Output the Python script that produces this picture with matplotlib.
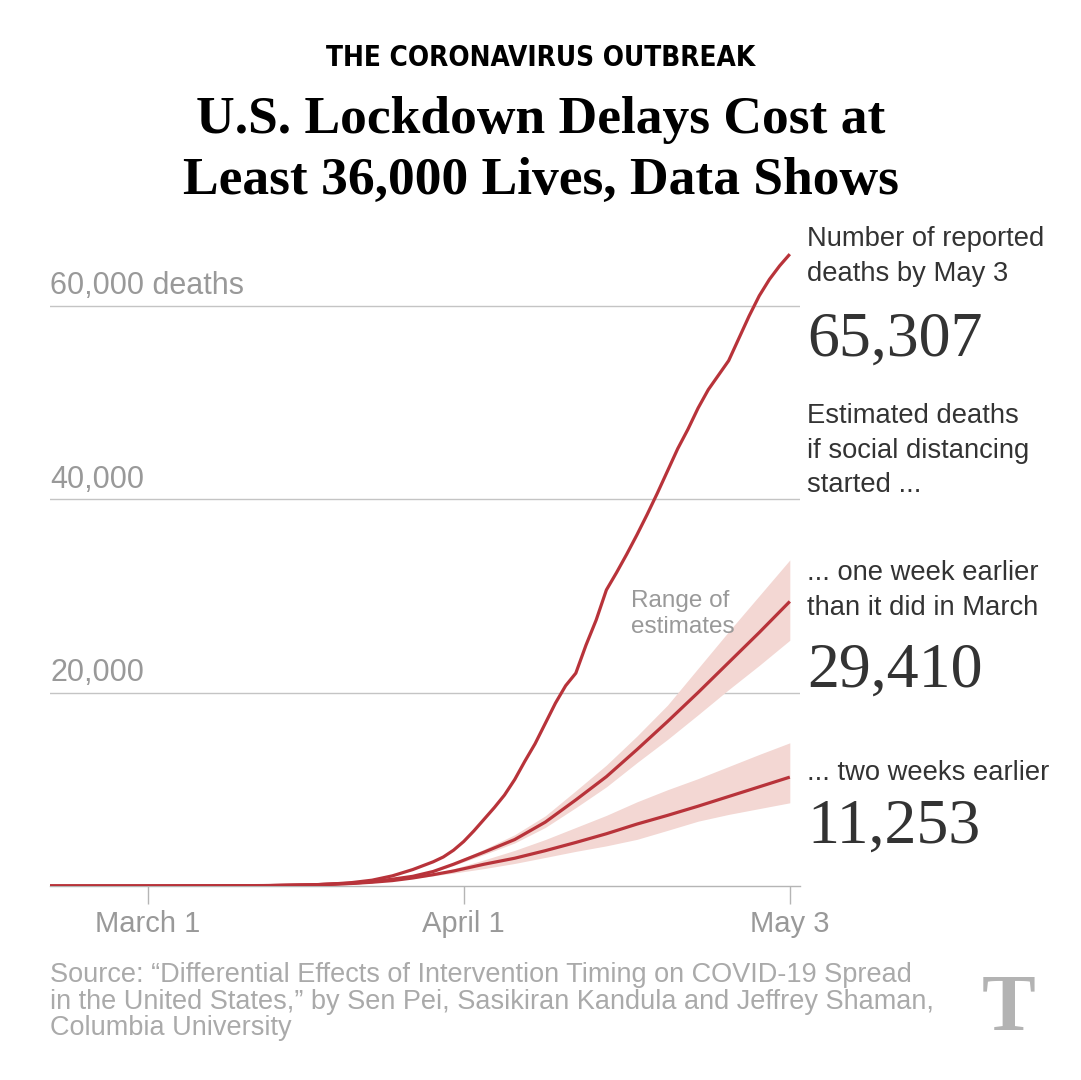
import pandas as pd
import numpy as np
import matplotlib
matplotlib.use("Agg")
import matplotlib.pyplot as plt
import matplotlib.dates as mdates
from matplotlib.transforms import blended_transform_factory

plt.rcParams["font.family"] = ["Liberation Sans", "DejaVu Sans"]

# reported cumulative deaths
reported_dates = ["2020-02-20", "2020-03-01", "2020-03-08", "2020-03-13", "2020-03-17",
                  "2020-03-19", "2020-03-21", "2020-03-23", "2020-03-25", "2020-03-27",
                  "2020-03-29", "2020-03-30", "2020-03-31", "2020-04-01", "2020-04-02",
                  "2020-04-03", "2020-04-04", "2020-04-05", "2020-04-06", "2020-04-07",
                  "2020-04-08", "2020-04-09", "2020-04-10", "2020-04-11", "2020-04-12",
                  "2020-04-13", "2020-04-14", "2020-04-15", "2020-04-16", "2020-04-17",
                  "2020-04-18", "2020-04-19", "2020-04-20", "2020-04-21", "2020-04-22",
                  "2020-04-23", "2020-04-24", "2020-04-25", "2020-04-26", "2020-04-27",
                  "2020-04-28", "2020-04-29", "2020-04-30", "2020-05-01", "2020-05-02",
                  "2020-05-03"]
reported = [0, 2, 20, 50, 110,
            200, 350, 600, 1050, 1700,
            2500, 3000, 3700, 4600, 5700,
            6900, 8100, 9400, 11000, 12900,
            14700, 16800, 18900, 20700, 22000,
            24900, 27500, 30600, 32400, 34300,
            36300, 38400, 40600, 42900, 45200,
            47200, 49400, 51300, 52800, 54300,
            56600, 58900, 61000, 62700, 64100,
            65307]

# model estimates if distancing had started earlier
est_dates = ["2020-02-20", "2020-03-01", "2020-03-08", "2020-03-13", "2020-03-17",
             "2020-03-21", "2020-03-23", "2020-03-25", "2020-03-27", "2020-03-29",
             "2020-03-31", "2020-04-03", "2020-04-06", "2020-04-09", "2020-04-12",
             "2020-04-15", "2020-04-18", "2020-04-21", "2020-04-24", "2020-04-27",
             "2020-04-30", "2020-05-03"]
one_week = [0, 2, 15, 45, 120, 280, 450, 700, 1000, 1500, 2250, 3500, 4800, 6600,
            8900, 11300, 14100, 17000, 20000, 23100, 26200, 29410]
one_week_low = [0, 2, 15, 45, 120, 275, 440, 690, 970, 1430, 2120, 3250, 4450, 6050,
                8100, 10250, 12750, 15150, 17700, 20300, 22800, 25400]
one_week_high = [0, 2, 15, 45, 120, 285, 460, 720, 1040, 1580, 2420, 3800, 5300, 7250,
                 9850, 12500, 15500, 18700, 22500, 26300, 30000, 33700]
two_weeks = [0, 2, 15, 45, 115, 260, 390, 560, 830, 1170, 1550, 2250, 2870, 3650,
             4500, 5400, 6400, 7300, 8250, 9250, 10250, 11253]
two_weeks_low = [0, 2, 15, 45, 115, 255, 380, 540, 780, 1050, 1330, 1800, 2330, 2950,
                 3580, 4150, 4820, 5750, 6700, 7400, 8000, 8600]
two_weeks_high = [0, 2, 15, 45, 115, 265, 400, 580, 880, 1280, 1780, 2700, 3680, 4800,
                  6050, 7300, 8700, 9950, 11100, 12350, 13600, 14800]

y_ticks = [20000, 40000, 60000]
y_tick_labels = ["20,000", "40,000", "60,000 deaths"]
x_ticks = ["2020-03-01", "2020-04-01", "2020-05-03"]
x_tick_labels = ["March 1", "April 1", "May 3"]

RED = "#b8333a"
PINK = "#f3d7d3"
GRAY = "#999999"
DARK = "#333333"

W, H = 1081, 1080
fig = plt.figure(figsize=(W / 100, H / 100), dpi=100)
fig.patch.set_facecolor("white")


def fy(py):
    return 1 - py / H


ax = fig.add_axes([50 / W, fy(886), 750 / W, 657.9 / H])

rd = pd.to_datetime(reported_dates)
ed = pd.to_datetime(est_dates)

ax.fill_between(ed, one_week_low, one_week_high, color=PINK, lw=0, zorder=1)
ax.fill_between(ed, two_weeks_low, two_weeks_high, color=PINK, lw=0, zorder=1)
ax.plot(ed, two_weeks, color=RED, lw=2.3, zorder=3, solid_capstyle="butt")
ax.plot(ed, one_week, color=RED, lw=2.3, zorder=3, solid_capstyle="butt")
ax.plot(rd, reported, color=RED, lw=2.3, zorder=4, solid_capstyle="butt")

mar1 = pd.Timestamp("2020-03-01")
ax.set_xlim(mar1 - pd.Timedelta(days=9.6), mar1 + pd.Timedelta(days=64.0))
ax.set_ylim(0, 68000)

for s in ["top", "right", "left"]:
    ax.spines[s].set_visible(False)
ax.spines["bottom"].set_color("#b5b5b5")
ax.spines["bottom"].set_linewidth(1)

ax.set_yticks(y_ticks)
ax.set_yticklabels([])
ax.tick_params(axis="y", length=0)
ax.grid(axis="y", color="#c4c4c4", lw=1)
ax.set_axisbelow(True)

trans = blended_transform_factory(ax.transAxes, ax.transData)
for v, lab in zip(y_ticks, y_tick_labels):
    ax.annotate(lab, (0, v), xycoords=trans, xytext=(0, 8), textcoords="offset points",
                ha="left", va="baseline", fontsize=22, color=GRAY)

ax.set_xticks(pd.to_datetime(x_ticks))
ax.set_xticklabels(x_tick_labels, fontsize=21, color=GRAY)
ax.tick_params(axis="x", length=13, width=1, color="#b5b5b5", pad=4)

# band label
fig.text(631 / W, fy(607), "Range of", fontsize=17.5, color=GRAY, ha="left", va="baseline")
fig.text(631 / W, fy(633), "estimates", fontsize=17.5, color=GRAY, ha="left", va="baseline")

# headline
fig.text(0.5, fy(66), "THE CORONAVIRUS OUTBREAK", ha="center", va="baseline",
         fontsize=20, fontweight="bold", family="DejaVu Sans", fontstretch="condensed")
fig.text(0.5, fy(133), "U.S. Lockdown Delays Cost at", ha="center", va="baseline",
         fontsize=38.5, fontweight="bold", family=["Liberation Serif", "DejaVu Serif"])
fig.text(0.5, fy(194), "Least 36,000 Lives, Data Shows", ha="center", va="baseline",
         fontsize=38.5, fontweight="bold", family=["Liberation Serif", "DejaVu Serif"])

# right-hand annotations
tx = 807 / W
side_lines = [(246, "Number of reported"), (281, "deaths by May 3"),
              (423, "Estimated deaths"), (458, "if social distancing"), (492, "started ..."),
              (580, "... one week earlier"), (615, "than it did in March"),
              (780, "... two weeks earlier")]
for py, s in side_lines:
    fig.text(tx, fy(py), s, ha="left", va="baseline", fontsize=19.7, color=DARK)

big_numbers = [(356, "65,307"), (687, "29,410"), (843, "11,253")]
for py, s in big_numbers:
    fig.text(tx, fy(py), s, ha="left", va="baseline", fontsize=46, color=DARK,
             family=["Liberation Serif", "DejaVu Serif"])

# source
source_lines = ["Source: \u201cDifferential Effects of Intervention Timing on COVID-19 Spread",
                "in the United States,\u201d by Sen Pei, Sasikiran Kandula and Jeffrey Shaman,",
                "Columbia University"]
for py, s in zip([982, 1009, 1035], source_lines):
    fig.text(50 / W, fy(py), s, ha="left", va="baseline", fontsize=19.5, color="#aaaaaa")

# NYT mark
fig.text(1009 / W, fy(1030), "T", ha="center", va="baseline", fontsize=58,
         fontweight="bold", color="#b3b3b3", family=["Liberation Serif", "DejaVu Serif"])

fig.savefig("out.png", dpi=100, facecolor="white")
